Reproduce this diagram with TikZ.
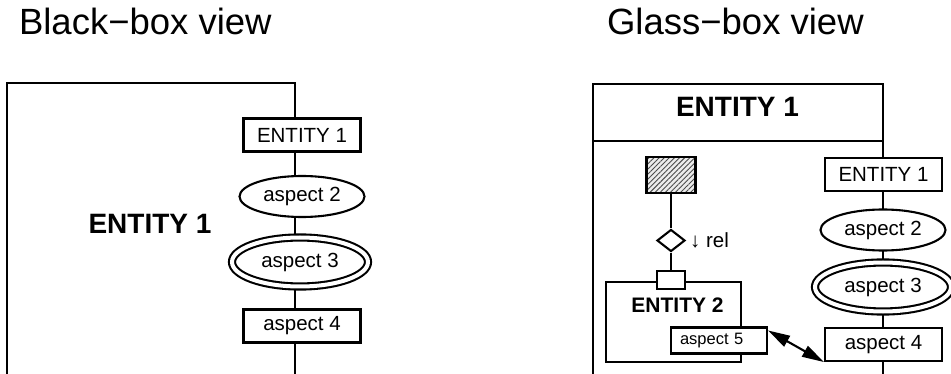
\documentclass[tikz,border=0pt]{standalone}
\usepackage{fontspec}
\setmainfont{Liberation Sans}
\usepackage{tikz}
\usetikzlibrary{arrows.meta,positioning,shapes.geometric,patterns.meta}
\newcommand{\lblfont}{\fontsize{20.5}{24}\selectfont}
\newcommand{\smallfont}{\fontsize{16.5}{20}\selectfont}

\begin{document}
\begin{tikzpicture}[
    x=1pt, y=-1pt,
    line width=2.1pt,
    nosep/.style={inner sep=0},
    viewtitle/.style={nosep, anchor=base west, font=\fontsize{36.5}{42}\selectfont},
    bigname/.style={nosep, font=\fontsize{28}{32}\selectfont\bfseries},
    midname/.style={nosep, font=\fontsize{21}{25}\selectfont\bfseries},
    entbox/.style={rectangle, draw, fill=white, nosep, minimum width=117pt, minimum height=33pt, font=\lblfont},
    aspectnode/.style={ellipse, draw, fill=white, nosep, minimum width=125pt, minimum height=41pt, font=\lblfont},
    keyaspect/.style={ellipse, draw, fill=white, double, double distance=4pt, nosep, minimum width=136pt, minimum height=49pt, font=\lblfont},
    hatchbox/.style={rectangle, draw, nosep, minimum width=49pt, minimum height=36pt, preaction={fill=gray!15}, pattern={Lines[angle=45, distance=3.6pt, line width=0.9pt]}, pattern color=black!70},
    relnode/.style={diamond, draw, fill=white, nosep, minimum width=28pt, minimum height=22pt},
    portbox/.style={rectangle, draw, fill=white, nosep, minimum width=28pt, minimum height=18pt},
    smallbox/.style={rectangle, draw, fill=white, inner xsep=9pt, inner ysep=0, text width=78pt, align=left, minimum height=26pt, font=\smallfont},
    tip/.tip={Triangle[length=22pt,width=12pt]}]
\useasboundingbox (0,0) rectangle (951,374);

\node[viewtitle] (btitle) at (18,35) {Black−box view};
\node[viewtitle] (gtitle) at (606,35) {Glass−box view};

\draw (7,374) |- (295,83) -- (295,374);
\node[bigname] (bname) at (150,224) {ENTITY 1};
\node[entbox] (bent) at (302,135) {ENTITY 1};
\node[aspectnode] (basp2) at (302,196.5) {aspect 2};
\node[keyaspect] (basp3) at (300,262) {aspect 3};
\node[entbox] (basp4) at (302,326) {aspect 4};

\draw (593,374) |- (883,84) -- (883,374);
\draw (593,141) -- (883,141);
\node[bigname] (ghead) at (737.5,107) {ENTITY 1};
\node[entbox] (gent) at (883.5,174.5) {ENTITY 1};
\node[aspectnode] (gasp2) at (883,230) {aspect 2};
\node[keyaspect] (gasp3) at (883,287) {aspect 3};
\node[entbox] (gasp4) at (883.5,344.5) {aspect 4};

\node[hatchbox] (owner) at (671,175) {};
\node[relnode] (rel) at (671,240.5) {};
\node[nosep, font=\lblfont, right=3pt of rel] (rellbl) {↓ rel};
\node[draw, nosep, minimum width=135pt, minimum height=80pt] (ent2) at (673.5,322) {};
\node[portbox] (port) at (671,280) {};
\node[midname] (ent2lbl) at (677.5,305) {ENTITY 2};
\node[smallbox] (asp5) at (719,340.5) {aspect 5};

\draw (owner) -- (rel);
\draw (rel) -- (port);
\draw[tip-tip] ([yshift=-4pt]asp5.north east) -- (gasp4.south west);

\end{tikzpicture}
\end{document}
